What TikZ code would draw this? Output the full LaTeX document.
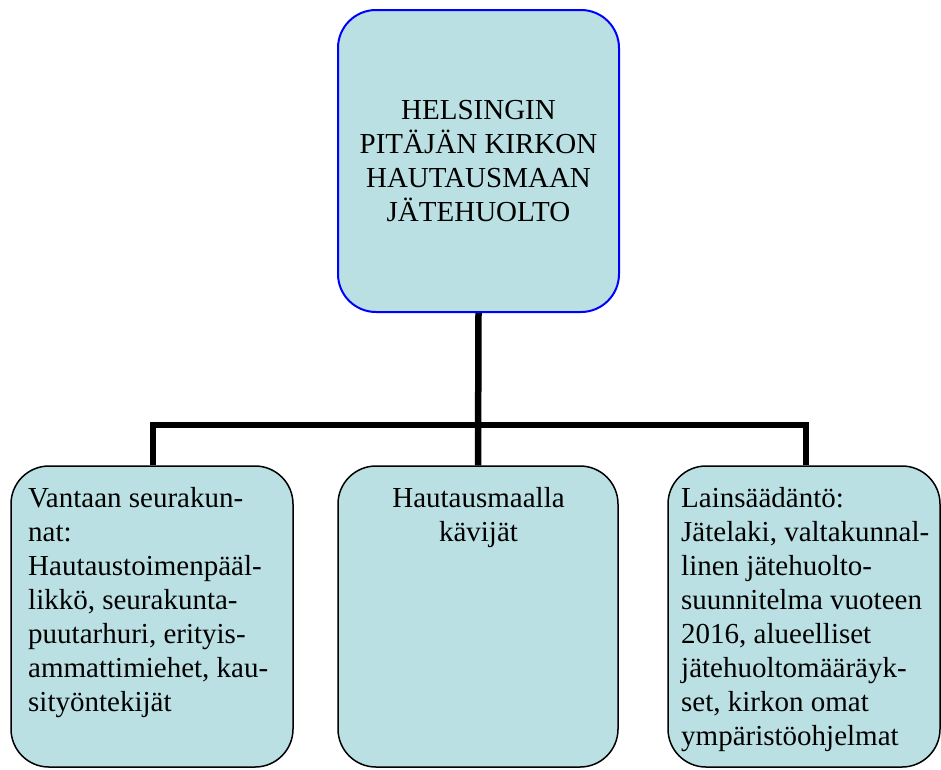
\documentclass[tikz,border=0pt]{standalone}
\usepackage{fontspec}
\setmainfont{Liberation Serif}
\definecolor{boxfill}{RGB}{187,224,227}
\definecolor{topline}{RGB}{0,0,255}
\tikzset{
  basebox/.style={rectangle, fill=boxfill, inner sep=0pt, rounded corners=38pt},
  topbox/.style={basebox, draw=topline, line width=2pt, align=center},
  subbox/.style={basebox, draw=black, line width=1.5pt},
  boxtext/.style={inner sep=0pt, font=\fontsize{29}{34}\selectfont},
  conn/.style={draw=black, line width=6.5pt, line join=miter, line cap=butt}
}
\begin{document}
\begin{tikzpicture}[x=1pt, y=-1pt, font=\fontsize{29}{34}\selectfont]
\useasboundingbox (0,0) rectangle (941,769);
% boxes
\node[topbox, minimum width=281pt, minimum height=302pt] (top) at (478.5,161)
  {HELSINGIN\\PITÄJÄN KIRKON\\HAUTAUSMAAN\\JÄTEHUOLTO};
\node[subbox, minimum width=282pt, minimum height=301pt] (l) at (152,616.5) {};
\node[subbox, minimum width=280pt, minimum height=301pt] (m) at (478,616.5) {};
\node[subbox, minimum width=272pt, minimum height=301pt] (r) at (804,616.5) {};
% texts
\node[boxtext, anchor=north west, align=left] (lt) at (28,487)
  {Vantaan seurakun-\\nat:\\Hautaustoimenpääl-\\likkö, seurakunta-\\puutarhuri, erityis-\\ammattimiehet, kau-\\sityöntekijät};
\node[boxtext, anchor=north, align=center] (mt) at (478.5,487)
  {Hautausmaalla\\kävijät};
\node[boxtext, anchor=north west, align=left] (rt) at (681,487)
  {Lainsäädäntö:\\Jätelaki, valtakunnal-\\linen jätehuolto-\\suunnitelma vuoteen\\2016, alueelliset\\jätehuoltomääräyk-\\set, kirkon omat\\ympäristöohjelmat};
% connectors
\coordinate (bar) at (0,425);
\coordinate (ld) at ([xshift=1pt]l.north);
\coordinate (rd) at ([xshift=2pt]r.north);
\draw[conn] (top.south) -- (m.north);
\draw[conn] (ld) -- (ld |- bar) -- (rd |- bar) -- (rd);
\end{tikzpicture}
\end{document}
